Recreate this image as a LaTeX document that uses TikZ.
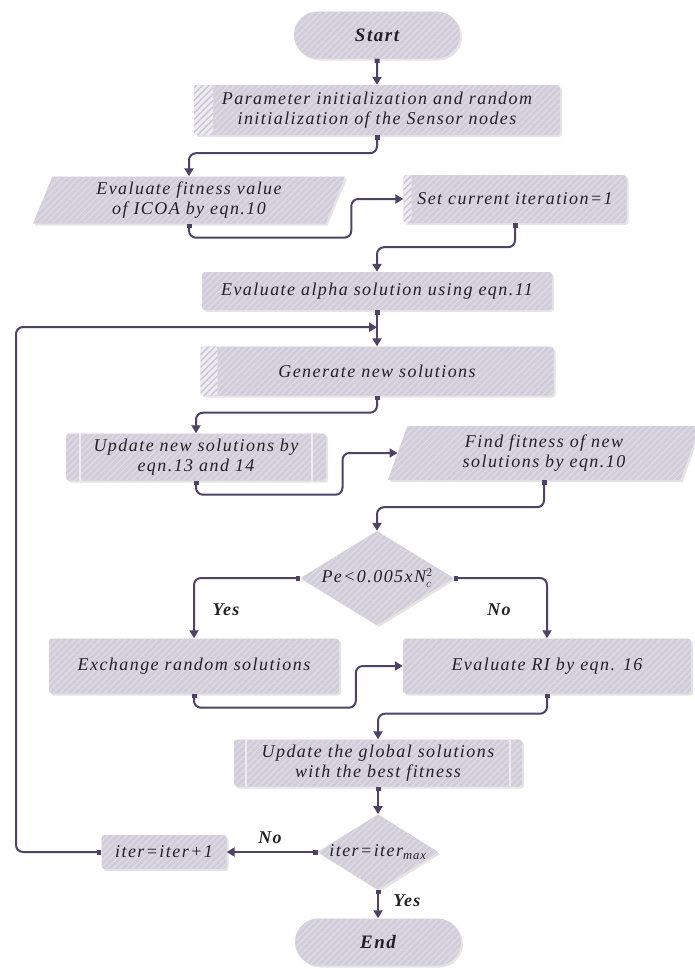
\documentclass[tikz,border=0pt]{standalone}
\usepackage{fontspec}
\setmainfont{Liberation Serif}[LetterSpace=8]
\usepackage{tikz}
\usetikzlibrary{shapes.geometric,shapes.misc,arrows.meta,patterns.meta,shadows}

\definecolor{boxfill}{RGB}{209,205,217}
\definecolor{hatch}{RGB}{222,219,229}
\definecolor{barfill}{RGB}{238,236,242}
\definecolor{bardark}{RGB}{200,196,209}
\definecolor{linec}{RGB}{78,66,102}
\definecolor{txt}{RGB}{35,33,40}

\tikzset{
	base/.style={font=\itshape\fontsize{18}{20}\selectfont, text=txt, align=center, inner sep=0pt,
		drop shadow={shadow xshift=2pt,shadow yshift=-2pt,opacity=.2},
		preaction={fill=boxfill},
		preaction={pattern={Lines[angle=45,distance=4.5pt,line width=1.3pt]},pattern color=hatch}},
	term/.style={base, rounded rectangle, minimum width=166pt, minimum height=47pt,
		font=\bfseries\itshape\fontsize{19}{20}\selectfont},
	proc/.style={base, rectangle, rounded corners=3pt},
	io/.style={base, trapezium, trapezium left angle=62, trapezium right angle=118, trapezium stretches body},
	dec/.style={base, diamond, aspect=1.6},
	barleft/.style={path picture={
		\fill[barfill] (path picture bounding box.north west) rectangle ([xshift=#1]path picture bounding box.south west);
		\fill[pattern={Lines[angle=45,distance=4.5pt,line width=1.3pt]},pattern color=bardark]
			(path picture bounding box.north west) rectangle ([xshift=#1]path picture bounding box.south west);}},
	twobar/.style={path picture={
		\draw[barfill,line width=1.5pt] ([xshift=#1]path picture bounding box.north west) -- ([xshift=#1]path picture bounding box.south west)
			([xshift=-#1]path picture bounding box.north east) -- ([xshift=-#1]path picture bounding box.south east);}},
	link/.style={draw=linec, line width=2pt, rounded corners=7pt, {Square[length=4.5pt,width=5pt]}-{Triangle[length=8pt,width=9pt]}},
	lab/.style={font=\bfseries\itshape\fontsize{18}{20}\selectfont, text=txt}
}

\begin{document}
\begin{tikzpicture}[x=1pt,y=-1pt]
	\fill[white] (0,0) rectangle (695,969);
	\useasboundingbox (0,0) rectangle (695,969);
	\node[term] (start) at (377,35) {Start};
	\node[proc,barleft=19pt,minimum width=366pt,minimum height=50pt] (param) at (377,110) {Parameter initialization and random\\initialization of the Sensor nodes};
	\node[io,minimum width=312pt,minimum height=47pt] (fit) at (189,200) {Evaluate fitness value\\of ICOA by eqn.10};
	\node[proc,barleft=8pt,minimum width=223pt,minimum height=48pt] (setit) at (515,199) {Set current iteration=1};
	\node[proc,minimum width=350pt,minimum height=38pt] (alpha) at (377,291) {Evaluate alpha solution using eqn.11};
	\node[proc,barleft=17pt,minimum width=353pt,minimum height=49pt] (gen) at (377,371) {Generate new solutions};
	\node[proc,twobar=14pt,minimum width=260pt,minimum height=47pt] (upd) at (196,457) {Update new solutions by\\eqn.13 and 14};
	\node[io,minimum width=312pt,minimum height=54pt] (find) at (544,453) {Find fitness of new\\solutions by eqn.10};
	\node[dec,minimum width=153pt,minimum height=94pt] (test) at (377,578) {Pe<0.005xN$_c^2$};
	\node[proc,minimum width=290pt,minimum height=55pt] (exch) at (194,666) {Exchange random solutions};
	\node[proc,minimum width=288pt,minimum height=55pt] (ri) at (547,666) {Evaluate RI by eqn. 16};
	\node[proc,twobar=12pt,minimum width=288pt,minimum height=47pt] (glob) at (378,763) {Update the global solutions\\with the best fitness};
	\node[dec,minimum width=118pt,minimum height=68pt] (stop) at (378,852) {iter=iter\textsubscript{max}};
	\node[proc,minimum width=125pt,minimum height=34pt] (next) at (164,852) {iter=iter+1};
	\node[term] (end) at (378,942) {End};
	\node[lab] (yes1) at (226,610) {Yes};
	\node[lab] (no1) at (499,610) {No};
	\node[lab] (no2) at (270,838) {No};
	\node[lab] (yes2) at (407,901) {Yes};
	\draw[link] (start) -- (param);
	\draw[link] (param.south) -- ++(0,18) -| (fit.north);
	\draw[link] (fit.south) -- ++(0,14) -| ([xshift=-52pt]setit.west) -- (setit.west);
	\draw[link] (setit.south) -- ++(0,24) -| (alpha.north);
	\draw[link] (alpha) -- (gen);
	\draw[link] (gen.south) -- ++(0,17) -| (upd.north);
	\draw[link] (upd.south) -- ++(0,14) -| ([xshift=-55pt]find.west) -- (find.west);
	\draw[link] (find.south) -- ++(0,27) -| (test.north);
	\draw[link] (test.west) -| (exch.north);
	\draw[link] (test.east) -| (ri.north);
	\draw[link] (exch.south) -- ++(0,14) -| ([xshift=-47pt]ri.west) -- (ri.west);
	\draw[link] (ri.south) -- ++(0,20) -| (glob.north);
	\draw[link] (glob) -- (stop);
	\draw[link] (stop) -- (next);
	\draw[link] (stop) -- (end);
	\coordinate (join) at ([yshift=-17pt]alpha.south);
	\draw[link] (next.west) -| (16,327) -- (join);
\end{tikzpicture}
\end{document}
